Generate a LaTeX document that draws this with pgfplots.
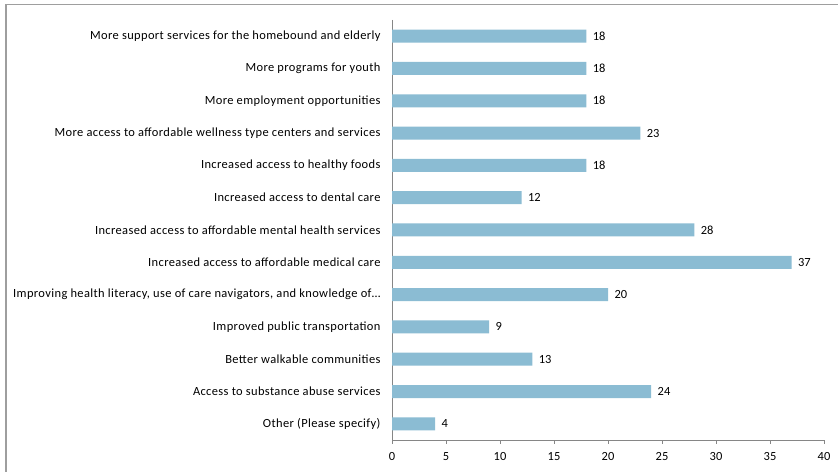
\documentclass[border=0pt]{standalone}
\usepackage{pgfplots}
\pgfplotsset{compat=1.18}
\usepackage{fontspec}
\setmainfont{Carlito}
\newfontfamily\lblfont[LetterSpace=3]{Carlito}
\definecolor{barblue}{RGB}{139,188,211}
\definecolor{axgray}{RGB}{134,134,134}
\begin{document}
\begin{tikzpicture}[x=1bp,y=1bp]
\useasboundingbox (0,0) rectangle (838,472);
\draw[color=axgray!80, line width=1.2bp] (6,-10) -- (6,467.5) -- (850,467.5);
\begin{axis}[
  at={(392bp,32bp)}, anchor=south west,
  scale only axis, width=432bp, height=420bp,
  xbar, bar width=13bp,
  xmin=0, xmax=40, xtick={0,5,...,40},
  ymin=-0.5, ymax=12.5, y dir=reverse,
  ytick={0,...,12},
  yticklabels={
    More support services for the homebound and elderly,
    More programs for youth,
    More employment opportunities,
    More access to affordable wellness type centers and services,
    Increased access to healthy foods,
    Increased access to dental care,
    Increased access to affordable mental health services,
    Increased access to affordable medical care,
    {Improving health literacy, use of care navigators, and knowledge of…},
    Improved public transportation,
    Better walkable communities,
    Access to substance abuse services,
    Other (Please specify)},
  minor ytick={-0.5,0.5,...,12.5},
  axis lines*=left,
  axis line style={axgray, line width=0.8bp},
  every tick/.style={axgray, line width=0.8bp},
  tick align=outside,
  major tick length=4bp,
  ytick style={draw=none},
  minor tick length=4bp,
  minor tick style={axgray, line width=0.8bp},
  tick label style={font=\fontsize{12.5}{14}\lblfont, black},
  yticklabel style={xshift=-4bp},
  xticklabel style={yshift=-5bp},
  /pgf/number format/assume math mode=true,
  nodes near coords,
  nodes near coords style={font=\fontsize{12.5}{14}\selectfont, black, xshift=3bp},
  clip=false,
]
\addplot[fill=barblue, draw=none] coordinates {
  (18,0) (18,1) (18,2) (23,3) (18,4) (12,5) (28,6) (37,7) (20,8) (9,9) (13,10) (24,11) (4,12)
};
\end{axis}
\end{tikzpicture}
\end{document}
